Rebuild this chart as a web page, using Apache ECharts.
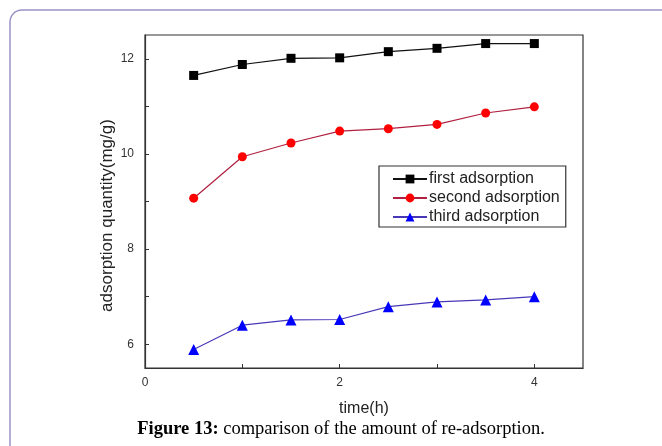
<!DOCTYPE html>
<html>
<head>
<meta charset="utf-8">
<script src="https://cdn.jsdelivr.net/npm/echarts@6/dist/echarts.min.js"></script>
<style>
  html, body { margin: 0; padding: 0; background: #fff; }
  #chart { width: 662px; height: 446px; }
</style>
</head>
<body>
<div id="chart"></div>
<script>
// Adsorption time (h)
const timeH = [0.5, 1, 1.5, 2, 2.5, 3, 3.5, 4];
// Adsorption quantity (mg/g) for each reuse cycle
const firstAdsorption  = [11.65, 11.88, 12.01, 12.02, 12.15, 12.22, 12.32, 12.32];
const secondAdsorption = [9.07, 9.94, 10.23, 10.48, 10.53, 10.62, 10.86, 10.99];
const thirdAdsorption  = [5.89, 6.40, 6.51, 6.52, 6.79, 6.89, 6.93, 7.00];
// Axis ticks and labels
const xTicks = [1, 2, 3, 4];
const xLabels = [0, 2, 4];
const yTicks = [6, 7, 8, 9, 10, 11, 12];
const yLabels = [6, 8, 10, 12];

const seriesNames = ['first adsorption', 'second adsorption', 'third adsorption'];

const pair = (ys) => timeH.map((t, i) => [t, ys[i]]);

const chart = echarts.init(document.getElementById('chart'), null, { renderer: 'canvas' });

const sansFont = { fontFamily: 'Liberation Sans, Arial, sans-serif' };
const serifFont = 'Liberation Serif, Times New Roman, serif';

chart.setOption({
  animation: false,
  backgroundColor: '#fff',
  graphic: [
    {
      type: 'rect',
      shape: { x: 10, y: 10, width: 720, height: 520, r: 12 },
      style: { fill: 'none', stroke: '#9a92c6', lineWidth: 1.5 },
      silent: true
    },
    {
      type: 'text',
      x: 341,
      y: 420,
      style: {
        text: '{b|Figure 13:} comparison of the amount of re-adsorption.',
        align: 'center',
        rich: {
          b: { fontWeight: 'bold', fontSize: 18.5, fontFamily: serifFont, fill: '#000' }
        },
        fontSize: 18.5,
        fontFamily: serifFont,
        fill: '#000'
      }
    }
  ],
  grid: {
    left: 145, top: 35, right: 79, bottom: 78,
    show: true, borderColor: '#333', borderWidth: 1.2, backgroundColor: 'transparent'
  },
  legend: {
    orient: 'vertical',
    left: 379, top: 166,
    width: 189,
    padding: [5, 6, 2, 13],
    backgroundColor: '#fff',
    borderColor: '#333',
    borderWidth: 1.2,
    itemWidth: 34,
    itemHeight: 11,
    itemGap: 3,
    textStyle: { fontSize: 16, color: '#222', padding: [0, 0, 0, -3], ...sansFont },
    data: seriesNames
  },
  xAxis: {
    type: 'value',
    min: 0, max: 4.5,
    name: 'time(h)',
    nameLocation: 'middle',
    nameGap: 33,
    nameTextStyle: { fontSize: 16, color: '#222', ...sansFont },
    axisLine: { show: true, lineStyle: { color: '#333', width: 1.2 } },
    axisTick: { show: true, inside: true, length: 4, customValues: xTicks, lineStyle: { color: '#333' } },
    axisLabel: { customValues: xLabels, fontSize: 12, color: '#333', margin: 9, ...sansFont },
    splitLine: { show: false }
  },
  yAxis: {
    type: 'value',
    min: 5.5, max: 12.5,
    name: 'adsorption quantity(mg/g)',
    nameLocation: 'middle',
    nameGap: 29,
    nameMoveOverlap: false,
    nameTextStyle: { fontSize: 17, color: '#222', padding: [0, 28, 0, 0], ...sansFont },
    axisLine: { show: true, lineStyle: { color: '#333', width: 1.2 } },
    axisTick: { show: true, inside: true, length: 4, customValues: yTicks, lineStyle: { color: '#333' } },
    axisLabel: { customValues: yLabels, fontSize: 12, color: '#333', margin: 11, ...sansFont },
    splitLine: { show: false }
  },
  series: [
    {
      name: seriesNames[0], type: 'line', data: pair(firstAdsorption),
      symbol: 'rect', symbolSize: 9,
      itemStyle: { color: '#000' },
      lineStyle: { color: '#111', width: 1.2 }
    },
    {
      name: seriesNames[1], type: 'line', data: pair(secondAdsorption),
      symbol: 'circle', symbolSize: 9,
      itemStyle: { color: '#ff0000' },
      lineStyle: { color: '#b02040', width: 1.2 }
    },
    {
      name: seriesNames[2], type: 'line', data: pair(thirdAdsorption),
      symbol: 'triangle', symbolSize: 11,
      itemStyle: { color: '#0000ff' },
      lineStyle: { color: '#4838b8', width: 1.2 }
    }
  ]
});
</script>
</body>
</html>
